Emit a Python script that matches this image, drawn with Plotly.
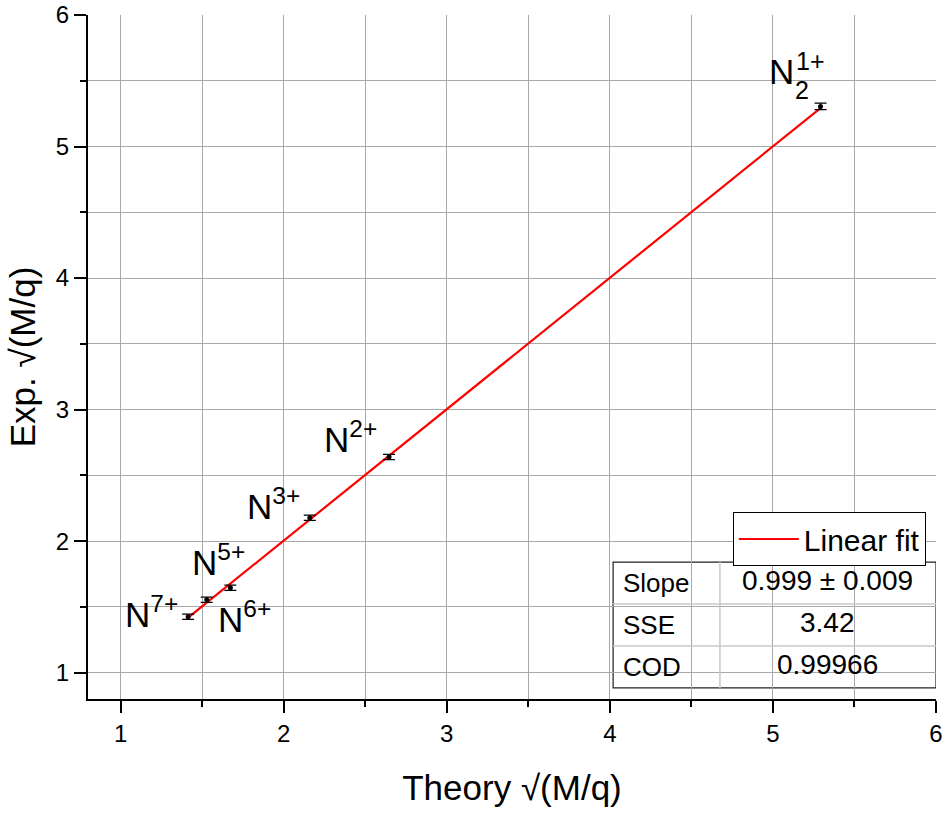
import plotly.graph_objects as go

# ---- data ----
ion_labels = ["N<sup>7+</sup>", "N<sup>6+</sup>", "N<sup>5+</sup>", "N<sup>3+</sup>", "N<sup>2+</sup>"]
theory = [1.414, 1.528, 1.673, 2.160, 2.646, 5.292]
experiment = [1.425, 1.555, 1.646, 2.178, 2.640, 5.305]
exp_err = [0.02, 0.02, 0.02, 0.02, 0.02, 0.025]
fit_slope = 0.999
fit_intercept = 0.006
stat_names = ["Slope", "SSE", "COD"]
stat_values = ["0.999 ± 0.009", "3.42", "0.99966"]
x_ticks = [1, 2, 3, 4, 5, 6]
y_ticks = [1, 2, 3, 4, 5, 6]

FONT = "Arial, Liberation Sans, sans-serif"

fig = go.Figure()

# linear fit line
fx = [min(theory), max(theory)]
fy = [fit_slope * v + fit_intercept for v in fx]
fig.add_trace(go.Scatter(x=fx, y=fy, mode="lines", name="Linear fit",
                         line=dict(color="red", width=2.2)))

# data points with error bars
fig.add_trace(go.Scatter(x=theory, y=experiment, mode="markers", showlegend=False,
                         marker=dict(color="black", size=5),
                         error_y=dict(type="data", array=exp_err, color="black",
                                      thickness=1.2, width=6)))

# labels (positions in data coordinates)
label_pos = [(1.19, 1.46), (1.76, 1.42), (1.60, 1.86), (1.94, 2.28), (2.41, 2.79)]
for lab, (lx, ly) in zip(ion_labels, label_pos):
    fig.add_annotation(x=lx, y=ly, text=lab, showarrow=False,
                       font=dict(family=FONT, size=35, color="black"))
# N2 1+ label (subscript 2, superscript 1+ stacked)
fig.add_annotation(x=5.05, y=5.567, text="N", showarrow=False,
                   font=dict(family=FONT, size=35, color="black"))
fig.add_annotation(x=5.18, y=5.43, text="2", showarrow=False,
                   font=dict(family=FONT, size=25, color="black"))
fig.add_annotation(x=5.23, y=5.65, text="1+", showarrow=False,
                   font=dict(family=FONT, size=25, color="black"))

# statistics table (drawn with shapes + annotations)
tx0, tx1, tx2 = 4.02, 4.675, 6.0
row_y = [1.841, 1.522, 1.203, 0.884]
for i in range(1, 3):
    fig.add_shape(type="line", x0=tx0, x1=tx2, y0=row_y[i], y1=row_y[i],
                  line=dict(color="#c8c8c8", width=1.5), layer="above")
fig.add_shape(type="line", x0=tx1, x1=tx1, y0=row_y[0], y1=row_y[3],
              line=dict(color="#c8c8c8", width=1.5), layer="above")
fig.add_shape(type="rect", x0=tx0, x1=tx2, y0=row_y[3], y1=row_y[0],
              line=dict(color="#202020", width=1.2), fillcolor="white", layer="below")
for i, (nm, val) in enumerate(zip(stat_names, stat_values)):
    yc = (row_y[i] + row_y[i + 1]) / 2
    fig.add_annotation(x=tx0 + 0.05, y=yc, text=nm, showarrow=False, xanchor="left",
                       font=dict(family=FONT, size=26, color="black"))
    fig.add_annotation(x=(tx1 + tx2) / 2, y=yc + 0.02, text=val, showarrow=False,
                       font=dict(family=FONT, size=28, color="black"))

grid_col = "#a8a8a8"
axis_common = dict(showline=True, linecolor="black", linewidth=2, mirror=False,
                   ticks="outside", ticklen=12, tickwidth=2, tickcolor="black",
                   showgrid=True, gridcolor=grid_col, gridwidth=1, zeroline=False,
                   automargin=False,
                   tickfont=dict(family=FONT, size=24, color="black"),
                   minor=dict(dtick=0.5, ticks="outside", ticklen=6, tickwidth=2,
                              tickcolor="black", showgrid=True, gridcolor=grid_col,
                              gridwidth=1))

fig.update_xaxes(range=[0.8, 6.0], tickvals=x_ticks, **axis_common,
                 title=dict(text="Theory √(M/q)", font=dict(family=FONT, size=35, color="black"),
                            standoff=30))
fig.update_yaxes(range=[0.8, 6.0], tickvals=y_ticks, **axis_common,
                 title=dict(text="Exp. √(M/q)", font=dict(family=FONT, size=35, color="black"),
                            standoff=10))

fig.update_layout(
    width=944, height=814,
    margin=dict(l=88, r=8, t=15, b=115),
    plot_bgcolor="white", paper_bgcolor="white",
    font=dict(family=FONT, color="black"),
    legend=dict(x=0.988, y=0.2734, xanchor="right", yanchor="top",
                bgcolor="white", bordercolor="black", borderwidth=1,
                font=dict(family=FONT, size=30, color="black"),
                itemwidth=60),
)

fig.write_html("out.html")
